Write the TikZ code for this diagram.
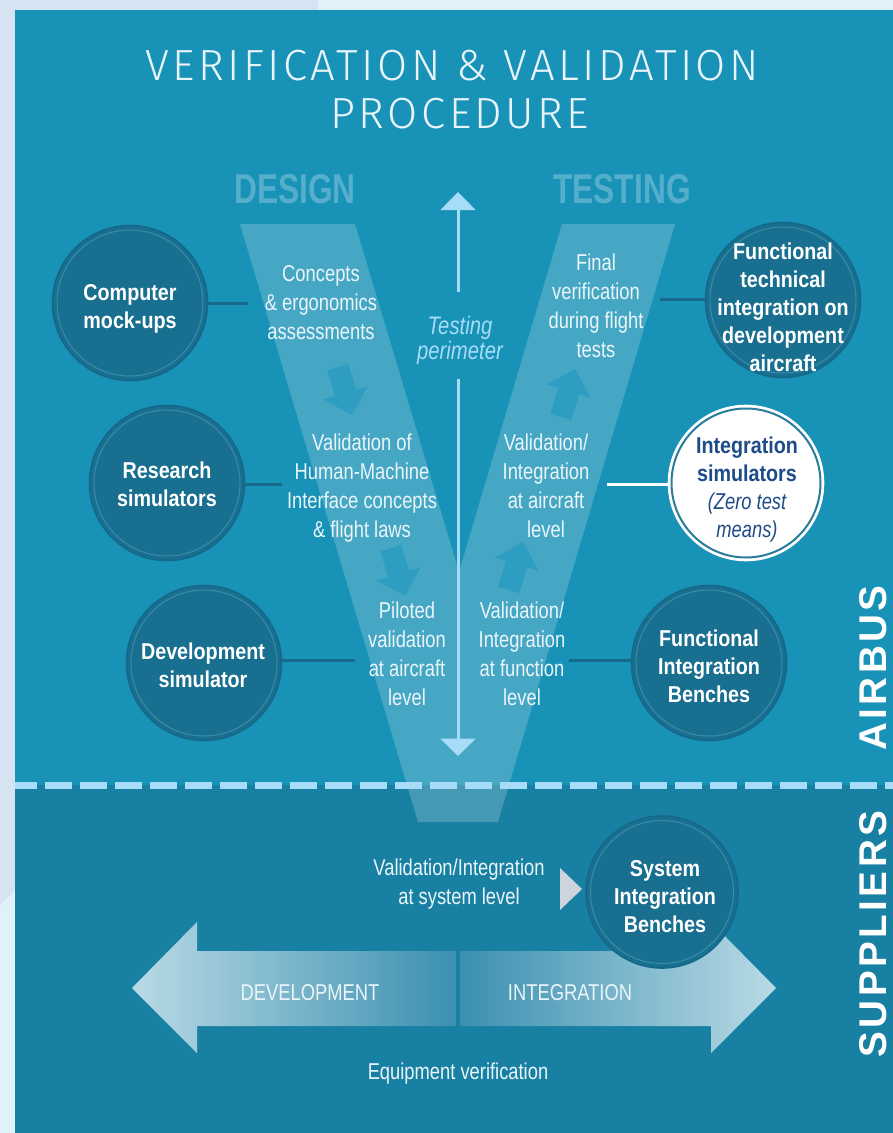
\documentclass[tikz,border=0pt]{standalone}
\usepackage{fontspec}
\usetikzlibrary{arrows.meta}
\setmainfont{Liberation Sans}
\newfontfamily\bodyfont[FakeStretch=0.8]{Liberation Sans}
\newfontfamily\boldfont[FakeStretch=0.86]{Liberation Sans}
\newfontfamily\headfont[FakeStretch=0.76]{Liberation Sans}
\newfontfamily\titlefont[LetterSpace=8]{Fira Sans Light}
\newfontfamily\sidefont[LetterSpace=9]{Liberation Sans}
\definecolor{outerA}{HTML}{D6E3F2}
\definecolor{outerB}{HTML}{E1F1FA}
\definecolor{upperbg}{HTML}{1892B7}
\definecolor{lowerbg}{HTML}{1880A2}
\definecolor{circfill}{HTML}{186F8F}
\definecolor{circedge}{HTML}{15688A}
\definecolor{circring}{HTML}{3A8CAA}
\definecolor{isring}{HTML}{2A7C9C}
\definecolor{linkc}{HTML}{186A8B}
\definecolor{paleblue}{HTML}{A6DCF7}
\definecolor{textw}{HTML}{EAF5FA}
\definecolor{titlec}{HTML}{E8F4F9}
\definecolor{headc}{HTML}{55AECB}
\definecolor{navy}{HTML}{1E4C88}
\definecolor{arrowin}{HTML}{2E9DC2}
\definecolor{tri}{HTML}{CDD4DE}
\definecolor{arrL}{HTML}{B9DAE5}
\definecolor{arrM}{HTML}{3B90B0}
\begin{document}
\begin{tikzpicture}[x=0.75pt,y=-0.75pt,
  circ/.style={circle, fill=circfill, draw=circedge, line width=1.2pt, minimum size=155*0.75pt, inner sep=0pt},
  ctext/.style={text=white, align=center, font=\boldfont\bfseries\fontsize{17.2}{21}\selectfont, inner sep=0pt},
  vtext/.style={text=textw, align=center, font=\bodyfont\fontsize{17.2}{21.75}\selectfont, inner sep=0pt},
  link/.style={draw=linkc, line width=2.25pt},
  pline/.style={draw=paleblue, line width=2.25pt},
  headtext/.style={font=\headfont\bfseries\fontsize{31.3}{32}\selectfont, text=headc, anchor=base, inner sep=0pt},
  titletext/.style={font=\titlefont\fontsize{32.7}{34}\selectfont, text=titlec, anchor=base, inner sep=0pt},
  sidetext/.style={rotate=90, text=white, font=\sidefont\bfseries\fontsize{29}{30}\selectfont, inner sep=0pt}
]
\useasboundingbox (0,0) rectangle (893,1133);
% background
\fill[outerB] (0,0) rectangle (893,1133);
\fill[outerA] (0,0) -- (318,0) -- (318,10) -- (15,10) -- (15,890) -- (0,905) -- cycle;
\fill[upperbg] (15,10) rectangle (893,785);
\fill[lowerbg] (15,785) rectangle (893,1133);
% V shape
\fill[white, opacity=0.2] (240,224) -- (355,224) -- (459,572) -- (562,224) -- (675,224) -- (498,822) -- (418,822) -- cycle;
% small arrows inside the V
\foreach \cx/\cy/\ang in {345/391/196.6, 398/572/196.6, 568/393/-16.5, 516/566/-16.5}
  \fill[arrowin, shift={(\cx,\cy)}, rotate=\ang] (0,-25) -- (23,-2) -- (11,-2) -- (11,25) -- (-11,25) -- (-11,-2) -- (-23,-2) -- cycle;
% dashed separator
\draw[paleblue, line width=5.25pt, dash pattern=on 20.25pt off 6pt, dash phase=3.75pt] (15,785) -- (893,785);
% title
\node[titletext] (t1) at (452,80) {VERIFICATION \& VALIDATION};
\node[titletext] (t2) at (460,128) {PROCEDURE};
\node[headtext] (des) at (295,203) {DESIGN};
\node[headtext] (tst) at (622,203) {TESTING};
% testing perimeter
\node[font=\bodyfont\itshape\fontsize{19}{18.75}\selectfont, text=paleblue, align=center, inner sep=0pt] (tp) at (460,340) {Testing\\perimeter};
\coordinate (tpUA) at (458,292);
\coordinate (tpUB) at (458,192);
\coordinate (tpDA) at (458,379);
\coordinate (tpDB) at (458,756);
\draw[pline, -{Triangle[width=26pt,length=13.5pt]}] (tpUA) -- (tpUB);
\draw[pline, -{Triangle[width=26pt,length=13pt]}] (tpDA) -- (tpDB);
% big arrows
\shade[left color=arrL, right color=arrM] (132,988) -- (197,922) -- (197,951) -- (456,951) -- (456,1026) -- (197,1026) -- (197,1053) -- cycle;
\shade[left color=arrM, right color=arrL] (460,951) -- (711,951) -- (711,922) -- (776,988) -- (711,1053) -- (711,1026) -- (460,1026) -- cycle;
\fill[tri] (560,868) -- (560,910) -- (582,889) -- cycle;
% circles
\node[circ] (cmc) at (130,303) {};
\node[circ] (rsc) at (167,483) {};
\node[circ] (dsc) at (204,663) {};
\node[circ] (ftc) at (783,300) {};
\node[circ, fill=white, draw=white] (isc) at (746,483) {};
\node[circ] (fbc) at (709,663) {};
\node[circ, minimum size=152*0.75pt] (sbc) at (662,892) {};
\foreach \n in {cmc,rsc,dsc,ftc,fbc}
  \draw[circring, line width=0.75pt] (\n.center) circle[radius=73];
\draw[circring, line width=0.75pt] (sbc.center) circle[radius=71.5];
\draw[isring, line width=1.5pt] (isc.center) circle[radius=74.5];
% connectors
\coordinate (cmE) at (248,303);
\coordinate (rsE) at (282,484);
\coordinate (dsE) at (355,660);
\coordinate (ftE) at (660,299);
\coordinate (isE) at (607,484);
\coordinate (fbE) at (569,660);
\draw[link] (cmc.east) -- (cmE);
\draw[link] (rsc.east |- rsE) -- (rsE);
\draw[link] (dsc.east |- dsE) -- (dsE);
\draw[link] (ftE) -- (ftc.west |- ftE);
\draw[white, line width=2.25pt] (isE) -- (isc.west |- isE);
\draw[link] (fbE) -- (fbc.west |- fbE);
% circle texts
\node[ctext] (cmt) at (130,309) {Computer\\mock-ups};
\node[ctext] (rst) at (167,484) {Research\\simulators};
\node[ctext] (dst) at (203,665) {Development\\simulator};
\node[ctext] (ftt) at (783,307.5) {Functional\\technical\\integration on\\development\\aircraft};
\node[ctext, text=navy] (ist) at (747,490) {Integration\\simulators\\{\bodyfont\mdseries\itshape (Zero test}\\{\bodyfont\mdseries\itshape means)}};
\node[ctext] (fbt) at (709,666) {Functional\\Integration\\Benches};
\node[ctext] (sbt) at (665,897) {System\\Integration\\Benches};
% V texts
\node[vtext] (v1) at (321,302.5) {Concepts\\\& ergonomics\\assessments};
\node[vtext] (v2) at (596,305.5) {Final\\verification\\during flight\\tests};
\node[vtext] (v3) at (362,488) {Validation of\\Human-Machine\\Interface concepts\\\& flight laws};
\node[vtext] (v4) at (546,486) {Validation/\\Integration\\at aircraft\\level};
\node[vtext] (v5) at (407,654) {Piloted\\validation\\at aircraft\\level};
\node[vtext] (v6) at (522,654) {Validation/\\Integration\\at function\\level};
\node[vtext] (v7) at (459,884) {Validation/Integration\\at system level};
\node[vtext] (dev) at (310,993) {DEVELOPMENT};
\node[vtext] (int) at (570,993) {INTEGRATION};
\node[vtext] (eqv) at (458,1074) {Equipment verification};
% side labels
\node[sidetext] (air) at (873,668) {AIRBUS};
\node[sidetext] (sup) at (873,934) {SUPPLIERS};
\end{tikzpicture}
\end{document}
